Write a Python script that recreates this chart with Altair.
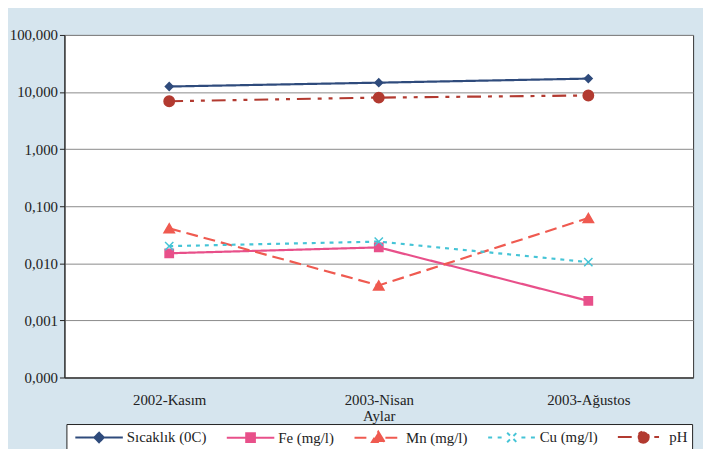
import altair as alt
import pandas as pd

months = ["2002-Kasım", "2003-Nisan", "2003-Ağustos"]
series = ["Sıcaklık (0C)", "Fe (mg/l)", "Mn (mg/l)", "Cu (mg/l)", "pH"]
sicaklik = [12.5, 14.6, 17.2]
fe = [0.015, 0.019, 0.0022]
mn = [0.041, 0.0041, 0.062]
cu = [0.020, 0.024, 0.0105]
ph = [6.9, 8.0, 8.7]

colors = ["#2f4b7c", "#e8508a", "#ef5a50", "#45c4d6", "#b23a30"]
dashes = [[1, 0], [1, 0], [12, 6], [4, 5], [14, 7, 4, 7, 4, 7]]
point_shapes = ["diamond", "square", "triangle-up", "M-1,-1L1,1M-1,1L1,-1", "circle"]
point_sizes = [60, 70, 110, 70, 110]
# legend glyphs: line segments plus marker (unit = 8px)
legend_paths = [
    "M-0.5,0H5.5M2.5,-0.6L3.1,0L2.5,0.6L1.9,0Z",
    "M-0.5,0H5.5M1.95,-0.55H3.05V0.55H1.95Z",
    "M-0.5,0H1.6M3.4,0H5.5M2.5,-0.75L3.3,0.55H1.7Z",
    "M-0.5,0H0.1M0.7,0H1.3M3.7,0H4.3M4.9,0H5.5M1.9,-0.6L3.1,0.6M1.9,0.6L3.1,-0.6",
    "M-0.5,0H2.0M4.1,0H4.7M3.4,0A0.7,0.7 0 1 1 2,0A0.7,0.7 0 1 1 3.4,0Z",
]

vals = [sicaklik, fe, mn, cu, ph]
rows = []
for s, v in zip(series, vals):
    for m, y in zip(months, v):
        rows.append({"month": m, "series": s, "value": y})
df = pd.DataFrame(rows)

FONT = "Liberation Serif"

x_enc = alt.X("month:N", sort=months, scale=alt.Scale(padding=0.5),
              axis=alt.Axis(title="Aylar", labelAngle=0, labelFontSize=15, titleFontSize=15,
                            titleFontWeight="normal", labelPadding=15, titlePadding=1,
                            ticks=False, domainColor="#222", labelColor="#222", titleColor="#222",
                            labelFont=FONT, titleFont=FONT))
y_enc = alt.Y("value:Q",
              scale=alt.Scale(type="log", domain=[0.0001, 100]),
              axis=alt.Axis(title=None, values=[0.0001, 0.001, 0.01, 0.1, 1, 10, 100],
                            labelExpr="replace(format(datum.value, '.3f'), '.', ',')",
                            labelFontSize=15, labelFont=FONT, labelColor="#222",
                            tickColor="#222", tickSize=5, domainColor="#222",
                            gridColor="#8a8a8a", gridWidth=1))

stroke_scale = alt.Scale(domain=series, range=colors)
dash_scale = alt.Scale(domain=series, range=dashes)

lines = alt.Chart(df).mark_line(strokeWidth=2.2).encode(
    x=x_enc, y=y_enc,
    stroke=alt.Stroke("series:N", scale=stroke_scale, legend=None),
    strokeDash=alt.StrokeDash("series:N", scale=dash_scale, legend=None),
    detail="series:N",
)

point_layers = []
for s, shp, sz in zip(series, point_shapes, point_sizes):
    point_layers.append(
        alt.Chart(df).transform_filter(alt.datum.series == s).mark_point(
            filled=True, shape=shp, size=sz, strokeWidth=1.5, opacity=1
        ).encode(
            x=x_enc, y=y_enc,
            fill=alt.Fill("series:N", scale=stroke_scale, legend=None),
            stroke=alt.Stroke("series:N", scale=stroke_scale, legend=None),
        )
    )


def leg():
    return alt.Legend(title=None, orient="none", direction="horizontal", columns=5,
                      legendX=2, legendY=393, fillColor="white", strokeColor="#222",
                      padding=4, columnPadding=15, labelFontSize=15, labelFont=FONT,
                      labelColor="#222", symbolStrokeWidth=2, symbolOpacity=1,
                      symbolSize=256, labelOffset=39)


legend_layer = alt.Chart(df).transform_filter("false").mark_point(
    filled=True, strokeWidth=2, opacity=1
).encode(
    x=x_enc, y=y_enc,
    fill=alt.Fill("series:N", scale=stroke_scale, legend=leg()),
    stroke=alt.Stroke("series:N", scale=stroke_scale, legend=leg()),
    shape=alt.Shape("series:N", scale=alt.Scale(domain=series, range=legend_paths), legend=leg()),
)

chart = alt.layer(legend_layer, lines, *point_layers).properties(
    width=635, height=346,
    background="#d6e5ee",
    autosize=alt.AutoSizeParams(type="none"),
    padding={"left": 57, "top": 25, "right": 10, "bottom": 70},
).configure_view(fill="white", stroke="#333", strokeWidth=1)

chart.save("out.html", embed_options={"renderer": "svg", "actions": False})
